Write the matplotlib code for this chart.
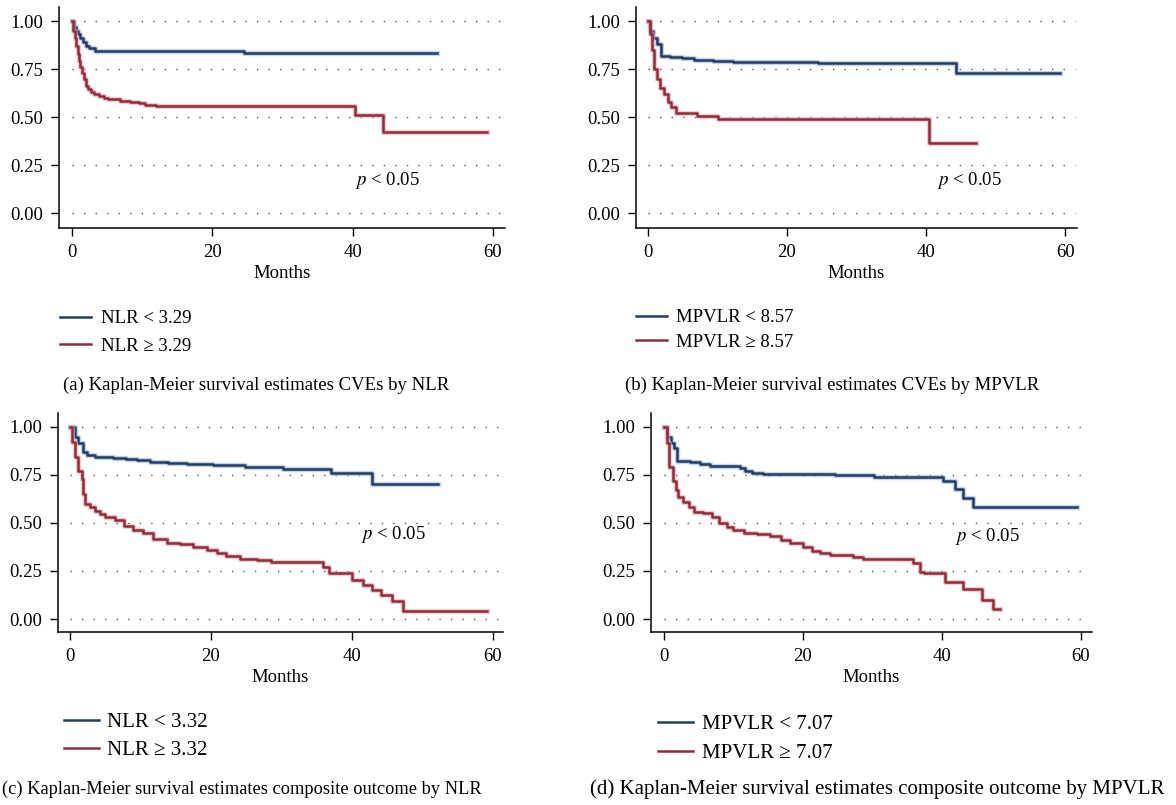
import matplotlib
matplotlib.use("Agg")
import matplotlib.pyplot as plt
import matplotlib.patheffects as pe

plt.rcParams['font.family'] = 'Liberation Serif'
plt.rcParams['mathtext.fontset'] = 'stix'

# --- data (months, survival) ---
# (a) CVEs by NLR
a_lo_t = [0, 0.3, 0.6, 0.9, 1.2, 1.6, 2.0, 2.4, 3.3, 24.5]
a_lo_s = [1.0, 0.97, 0.95, 0.93, 0.91, 0.89, 0.87, 0.86, 0.845, 0.835]
a_lo_end = 52.0
a_hi_t = [0, 0.2, 0.4, 0.6, 0.8, 1.0, 1.2, 1.4, 1.7, 2.0, 2.3, 2.7, 3.2, 3.8, 4.6, 5.2,
          6.9, 8.2, 9.6, 10.4, 12.0, 40.3, 44.3]
a_hi_s = [1.0, 0.95, 0.91, 0.87, 0.83, 0.79, 0.76, 0.73, 0.70, 0.66, 0.645, 0.63, 0.62,
          0.61, 0.60, 0.595, 0.585, 0.58, 0.572, 0.565, 0.556, 0.51, 0.423]
a_hi_end = 59.2

# (b) CVEs by MPVLR
b_lo_t = [0, 0.3, 0.7, 1.3, 1.9, 3.2, 4.9, 6.6, 9.4, 12.3, 24.5, 44.3]
b_lo_s = [1.0, 0.95, 0.91, 0.88, 0.82, 0.814, 0.805, 0.797, 0.79, 0.788, 0.783, 0.727]
b_lo_end = 59.2
b_hi_t = [0, 0.33, 0.57, 0.96, 1.3, 1.8, 2.3, 2.9, 3.4, 4.0, 7.05, 10.05, 40.4]
b_hi_s = [1.0, 0.93, 0.85, 0.75, 0.70, 0.65, 0.62, 0.58, 0.55, 0.52, 0.504, 0.489, 0.362]
b_hi_end = 47.2

# (c) composite outcome by NLR
c_lo_t = [0, 0.7, 1.2, 1.9, 2.4, 3.5, 6.1, 8.0, 9.5, 11.4, 13.9, 16.6, 20.3, 24.8,
          30.3, 37.1, 42.8]
c_lo_s = [1.0, 0.948, 0.913, 0.87, 0.853, 0.84, 0.835, 0.83, 0.825, 0.818, 0.813,
          0.806, 0.80, 0.792, 0.78, 0.761, 0.70]
c_lo_end = 52.3
c_hi_t = [0, 0.24, 0.7, 1.2, 1.65, 1.9, 2.1, 2.8, 3.5, 4.3, 5.0, 6.4, 7.6, 9.0, 10.4,
          11.8, 13.7, 15.6, 17.5, 19.4, 20.8, 22.2, 24.1, 26.5, 28.6, 35.9, 36.7, 40.0,
          41.6, 42.8, 44.2, 45.7, 47.3]
c_hi_s = [1.0, 0.92, 0.84, 0.77, 0.73, 0.65, 0.60, 0.58, 0.56, 0.545, 0.53, 0.515,
          0.483, 0.463, 0.445, 0.416, 0.397, 0.39, 0.376, 0.359, 0.345, 0.328, 0.312,
          0.307, 0.295, 0.272, 0.241, 0.203, 0.177, 0.151, 0.125, 0.094, 0.043]
c_hi_end = 59.2

# (d) composite outcome by MPVLR
d_lo_t = [0, 0.52, 1.0, 1.5, 1.96, 3.8, 5.2, 6.7, 11.0, 11.7, 12.7, 14.3, 24.6, 30.2,
          40.2, 41.9, 43.1, 44.5]
d_lo_s = [1.0, 0.948, 0.913, 0.887, 0.823, 0.815, 0.806, 0.795, 0.783, 0.771, 0.761,
          0.754, 0.75, 0.74, 0.717, 0.674, 0.63, 0.58]
d_lo_end = 59.4
d_hi_t = [0, 0.43, 0.8, 1.29, 1.77, 2.1, 2.8, 3.6, 4.3, 5.7, 6.9, 7.9, 9.1, 10.0, 11.5,
          13.4, 15.3, 16.9, 18.2, 20.1, 21.3, 22.5, 23.9, 27.3, 28.7, 35.9, 36.9, 37.4,
          40.5, 43.1, 45.8, 47.4]
d_hi_s = [1.0, 0.913, 0.79, 0.72, 0.67, 0.636, 0.61, 0.584, 0.558, 0.549, 0.532, 0.497,
          0.48, 0.463, 0.445, 0.442, 0.432, 0.41, 0.393, 0.376, 0.355, 0.341, 0.333,
          0.324, 0.314, 0.289, 0.246, 0.237, 0.194, 0.156, 0.099, 0.05]
d_hi_end = 48.4

a_labels = ['NLR < 3.29', 'NLR \u2265 3.29']
b_labels = ['MPVLR < 8.57', 'MPVLR \u2265 8.57']
c_labels = ['NLR < 3.32', 'NLR \u2265 3.32']
d_labels = ['MPVLR < 7.07', 'MPVLR \u2265 7.07']
captions = ['(a) Kaplan-Meier survival estimates CVEs by NLR',
            '(b) Kaplan-Meier survival estimates CVEs by MPVLR',
            '(c) Kaplan-Meier survival estimates composite outcome by NLR',
            '(d) Kaplan-Meier survival estimates composite outcome by MPVLR']
yticks = [0, 0.25, 0.5, 0.75, 1.0]
xticks = [0, 20, 40, 60]
pval = r'$\mathit{p}$ < 0.05'

W, H = 1176, 805
NAVY = '#213d65'
MAROON = '#8e2d3b'
NAVY_HALO = '#9fb4d2'
MAROON_HALO = '#e0a9b0'
FS = 13.5

fig = plt.figure(figsize=(W / 100, H / 100), dpi=100)


def px_rect(l, t, r, b):
    return [l / W, 1 - b / H, (r - l) / W, (b - t) / H]


def km_panel(box, x0px, x60px, y1px, y0px, low, high, labels, leg, ptxt):
    l, t, r, b = box
    ax = fig.add_axes(px_rect(l, t, r, b))
    ppx = (x60px - x0px) / 60
    ppy = (y0px - y1px) / 1.0
    ax.set_xlim(-(x0px - l) / ppx, 60 + (r - x60px) / ppx)
    ax.set_ylim(-(b - y0px) / ppy, 1 + (y1px - t) / ppy)
    xmax = ax.get_xlim()[1]
    ax.hlines(yticks, 0, xmax - 0.3, colors='#555555', linewidth=1.0,
              linestyles=(0, (1, 7.3)), zorder=1)
    handles = []
    for (tt, ss, end), col, halo in [(low, NAVY, NAVY_HALO), (high, MAROON, MAROON_HALO)]:
        ax.step(tt + [end], ss + [ss[-1]], where='post', color=col, lw=1.8, zorder=3,
                path_effects=[pe.Stroke(linewidth=3.8, foreground=halo, alpha=0.6),
                              pe.Normal()])
        handles.append(plt.Line2D([], [], color=col, lw=1.8))
    ax.text(ptxt[0], ptxt[1], pval, fontsize=FS, va='center', ha='left')
    ax.set_xticks(xticks)
    ax.set_yticks(yticks)
    ax.set_yticklabels(['%.2f' % v for v in yticks])
    ax.tick_params(direction='out', length=5.5, width=1.0, labelsize=FS, pad=6)
    ax.set_xlabel('Months', fontsize=FS, labelpad=3)
    for s in ['top', 'right']:
        ax.spines[s].set_visible(False)
    for s in ['left', 'bottom']:
        ax.spines[s].set_linewidth(1.1)
    hx, ytop, ybot, fs, hlen, pad, lsp = leg
    fig.legend(handles, labels, loc='center left',
               bbox_to_anchor=(hx / W, 1 - (ytop + ybot) / 2 / H), frameon=False,
               fontsize=fs, handlelength=hlen, handletextpad=pad,
               labelspacing=lsp, borderpad=0, borderaxespad=0)
    return ax


km_panel((59, 7, 505, 228), 72, 493, 21, 213,
         (a_lo_t, a_lo_s, a_lo_end), (a_hi_t, a_hi_s, a_hi_end), a_labels,
         (60, 319, 346, 13.5, 1.65, 0.55, 0.55), (40.3, 0.17))
km_panel((636, 7, 1077, 228), 647.7, 1065.3, 21, 213,
         (b_lo_t, b_lo_s, b_lo_end), (b_hi_t, b_hi_s, b_hi_end), b_labels,
         (636, 318, 342, 13.5, 1.65, 0.5, 0.39), (41.5, 0.17))
km_panel((58, 413, 503, 632), 70, 492.7, 426.7, 619,
         (c_lo_t, c_lo_s, c_lo_end), (c_hi_t, c_hi_s, c_hi_end), c_labels,
         (64, 723, 750, 15, 1.68, 0.38, 0.40), (41.3, 0.437))
km_panel((651, 413, 1092, 632), 663.7, 1080.7, 426.7, 619,
         (d_lo_t, d_lo_s, d_lo_end), (d_hi_t, d_hi_s, d_hi_end), d_labels,
         (658, 725, 753, 15, 1.68, 0.45, 0.45), (41.9, 0.428))

for (cx, cy, fs), cap in zip([(63, 385, 13.5), (625, 385, 13.5), (2, 789, 13.2),
                              (590, 789, 15.0)], captions):
    fig.text(cx / W, 1 - cy / H, cap, fontsize=fs, ha='left', va='center')

fig.savefig('out.png', dpi=100)
